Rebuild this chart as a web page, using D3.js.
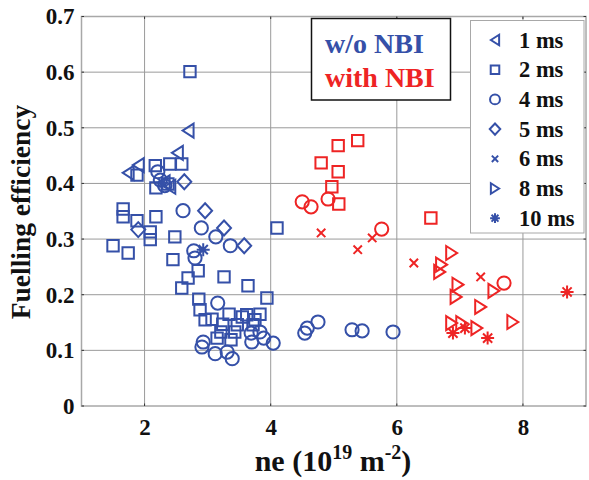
<!DOCTYPE html>
<html><head><meta charset="utf-8">
<script src="https://cdn.jsdelivr.net/npm/d3@7"></script>
<style>body{margin:0;background:#fff}svg{display:block}</style>
</head><body>
<svg id="c" width="589" height="480"></svg>
<script>
// ---- data ----
const xTicks = [2, 4, 6, 8];
const yTicks = [0, 0.1, 0.2, 0.3, 0.4, 0.5, 0.6, 0.7];
const legendLabels = ["1 ms", "2 ms", "4 ms", "5 ms", "6 ms", "8 ms", "10 ms"];
const legendSymbols = ["triLeft", "square", "circle", "diamond", "cross", "triRight", "asterisk"];

// w/o NBI (blue)
const woNBI_1ms = [[2.69,0.495],[2.52,0.455],[1.90,0.433],[1.74,0.419],[2.40,0.394],[2.31,0.402]];
const woNBI_2ms = [[2.72,0.601],[2.17,0.432],[2.40,0.435],[2.59,0.435],[1.88,0.415],[2.18,0.392],[2.37,0.399],
  [1.66,0.354],[1.66,0.340],[1.88,0.333],[2.18,0.340],[2.09,0.313],[2.09,0.299],[1.50,0.288],[1.74,0.275],
  [2.48,0.304],[2.45,0.263],[2.85,0.243],[2.69,0.230],[2.59,0.212],[2.86,0.192],[3.26,0.232],[3.64,0.216],
  [4.10,0.320],[3.94,0.194],[2.88,0.173],[2.96,0.155],[3.07,0.156],[3.34,0.165],[3.55,0.160],[3.62,0.164],
  [3.83,0.165],[3.24,0.147],[3.47,0.146],[3.75,0.155],[3.72,0.146],[3.21,0.133],[3.43,0.133],[3.15,0.122],[3.37,0.119]];
const woNBI_4ms = [[2.61,0.351],[2.90,0.320],[3.13,0.304],[3.36,0.288],[2.78,0.279],[2.80,0.266],[2.21,0.421],
  [2.25,0.406],[2.32,0.396],[3.16,0.185],[2.93,0.115],[2.91,0.106],[3.12,0.094],[3.31,0.097],[3.39,0.085],
  [3.69,0.131],[3.70,0.115],[3.83,0.133],[3.89,0.122],[4.04,0.113],[4.54,0.131],[4.58,0.140],[4.75,0.151],
  [5.29,0.137],[5.45,0.135],[5.94,0.133]];
const woNBI_5ms = [[2.63,0.403],[2.96,0.351],[3.26,0.320],[3.58,0.288],[1.90,0.317]];
const woNBI_10ms = [[2.93,0.281],[2.28,0.401]];

// with NBI (red)
const withNBI_2ms = [[5.07,0.468],[5.38,0.477],[4.80,0.437],[5.07,0.421],[4.97,0.394],[5.08,0.363],[6.54,0.338]];
const withNBI_4ms = [[4.50,0.367],[4.64,0.358],[4.91,0.372],[5.76,0.318],[7.70,0.221]];
const withNBI_6ms = [[4.80,0.311],[5.38,0.281],[5.61,0.302],[6.27,0.257],[7.33,0.232]];
const withNBI_8ms = [[6.87,0.275],[6.71,0.254],[6.68,0.241],[6.97,0.218],[6.94,0.196],[7.54,0.207],[7.33,0.178],
  [7.84,0.151],[6.87,0.149],[7.03,0.149],[7.27,0.140]];
const withNBI_10ms = [[6.89,0.131],[7.08,0.140],[7.44,0.122],[8.70,0.205]];

// ---- drawing ----
const BLUE = "#3550a8", RED = "#ee2424";
const series = [
  {pts: woNBI_1ms, sym: "triLeft", col: BLUE},
  {pts: woNBI_2ms, sym: "square", col: BLUE},
  {pts: woNBI_4ms, sym: "circle", col: BLUE},
  {pts: woNBI_5ms, sym: "diamond", col: BLUE},
  {pts: woNBI_10ms, sym: "asterisk", col: BLUE},
  {pts: withNBI_2ms, sym: "square", col: RED},
  {pts: withNBI_4ms, sym: "circle", col: RED},
  {pts: withNBI_6ms, sym: "cross", col: RED},
  {pts: withNBI_8ms, sym: "triRight", col: RED},
  {pts: withNBI_10ms, sym: "asterisk", col: RED}
];

function symPath(t, k) {
  k = k || 1;
  switch (t) {
    case "triLeft": return `M${-5.5*k},0L${5.5*k},${-7*k}L${5.5*k},${7*k}Z`;
    case "triRight": return `M${5.5*k},0L${-5.5*k},${-7*k}L${-5.5*k},${7*k}Z`;
    case "square": { const h = 5.7*k; return `M${-h},${-h}H${h}V${h}H${-h}Z`; }
    case "circle": { const r = 6.6*k; return `M${r},0A${r},${r} 0 1,1 ${-r},0A${r},${r} 0 1,1 ${r},0Z`; }
    case "diamond": return `M0,${-7.5*k}L${7*k},0L0,${7.5*k}L${-7*k},0Z`;
    case "cross": { const h = 4.2*k; return `M${-h},${-h}L${h},${h}M${-h},${h}L${h},${-h}`; }
    case "asterisk": {
      let d = ""; const r = 6.5*k;
      for (let i = 0; i < 4; i++) { const a = i*Math.PI/4; d += `M${r*Math.cos(a)},${r*Math.sin(a)}L${-r*Math.cos(a)},${-r*Math.sin(a)}`; }
      return d;
    }
  }
}

const svg = d3.select("#c");
const L = 81.5, R = 586, T = 16.5, B = 406;
const x = d3.scaleLinear().domain([1, 9]).range([L, R]);
const y = d3.scaleLinear().domain([0, 0.7]).range([B, T]);
const FONT = "'Liberation Serif','Times New Roman',serif";

// grid
const grid = svg.append("g");
grid.selectAll("line.gx").data(xTicks).enter().append("line")
  .attr("x1", d => x(d)).attr("x2", d => x(d)).attr("y1", T).attr("y2", B)
  .attr("stroke", "#9a9a9a").attr("stroke-width", 1);
grid.selectAll("line.gy").data(yTicks.filter(d => d > 0 && d < 0.7)).enter().append("line")
  .attr("x1", L).attr("x2", R).attr("y1", d => y(d)).attr("y2", d => y(d))
  .attr("stroke", "#9a9a9a").attr("stroke-width", 1);

// frame
svg.append("rect").attr("x", L).attr("y", T).attr("width", R - L).attr("height", B - T)
  .attr("fill", "none").attr("stroke", "#a8a8a8").attr("stroke-width", 1.5);

// small inward ticks
const tk = svg.append("g").attr("stroke", "#333").attr("stroke-width", 1);
xTicks.forEach(v => {
  tk.append("line").attr("x1", x(v)).attr("x2", x(v)).attr("y1", B).attr("y2", B - 2.5);
  tk.append("line").attr("x1", x(v)).attr("x2", x(v)).attr("y1", T).attr("y2", T + 2.5);
});
yTicks.forEach(v => {
  tk.append("line").attr("x1", L).attr("x2", L + 2.5).attr("y1", y(v)).attr("y2", y(v));
  tk.append("line").attr("x1", R).attr("x2", R - 2.5).attr("y1", y(v)).attr("y2", y(v));
});

// axes labels via d3 axes
const xAxis = d3.axisBottom(x).tickValues(xTicks).tickSize(0).tickPadding(13).tickFormat(d3.format("d"));
const gx = svg.append("g").attr("transform", `translate(0,${B})`).call(xAxis);
const yAxis = d3.axisLeft(y).tickValues(yTicks).tickSize(0).tickPadding(7)
  .tickFormat(d => d === 0 ? "0" : d3.format(".1f")(d));
const gy = svg.append("g").attr("transform", `translate(${L},0)`).call(yAxis);
[gx, gy].forEach(g => {
  g.select(".domain").remove();
  g.selectAll("text").attr("font-family", FONT).attr("font-weight", "bold")
    .attr("font-size", 23).attr("fill", "#111");
});

// axis titles
svg.append("text").attr("transform", "translate(30,212) rotate(-90)")
  .attr("text-anchor", "middle").attr("font-family", FONT).attr("font-weight", "bold")
  .attr("font-size", 27.5).attr("fill", "#111").text("Fuelling efficiency");
const xt = svg.append("text").attr("x", 333).attr("y", 471).attr("text-anchor", "middle")
  .attr("font-family", FONT).attr("font-weight", "bold").attr("font-size", 30).attr("fill", "#111");
xt.append("tspan").text("ne (10");
xt.append("tspan").attr("dy", -12).attr("font-size", 20).text("19");
xt.append("tspan").attr("dy", 12).text(" m");
xt.append("tspan").attr("dy", -12).attr("font-size", 20).text("-2");
xt.append("tspan").attr("dy", 12).text(")");

// markers
series.forEach(s => {
  const g = svg.append("g");
  g.selectAll("path").data(s.pts).enter().append("path")
    .attr("transform", d => `translate(${x(d[0])},${y(d[1])})`)
    .attr("d", symPath(s.sym))
    .attr("fill", "none").attr("stroke", s.col).attr("stroke-width", 2);
});

// NBI box
svg.append("rect").attr("x", 311.5).attr("y", 18.5).attr("width", 139).attr("height", 81.5)
  .attr("fill", "#fff").attr("stroke", "#111").attr("stroke-width", 1.5);
svg.append("text").attr("x", 325).attr("y", 53).attr("font-family", FONT).attr("font-weight", "bold")
  .attr("font-size", 28).attr("fill", BLUE).text("w/o NBI");
svg.append("text").attr("x", 325).attr("y", 87).attr("font-family", FONT).attr("font-weight", "bold")
  .attr("font-size", 28).attr("fill", RED).text("with NBI");

// legend
svg.append("rect").attr("x", 470.5).attr("y", 20.5).attr("width", 113.5).attr("height", 212.5)
  .attr("fill", "#fff").attr("stroke", "#a8a8a8").attr("stroke-width", 1);
const lg = svg.append("g");
legendLabels.forEach((lab, i) => {
  const yy = 40 + i * 29.7;
  lg.append("path").attr("transform", `translate(495,${yy})`).attr("d", symPath(legendSymbols[i], 0.75))
    .attr("fill", "none").attr("stroke", BLUE).attr("stroke-width", 2);
  lg.append("text").attr("x", 519).attr("y", yy + 7.5).attr("font-family", FONT).attr("font-weight", "bold")
    .attr("font-size", 22.5).attr("fill", "#111").text(lab);
});
</script>
</body></html>
